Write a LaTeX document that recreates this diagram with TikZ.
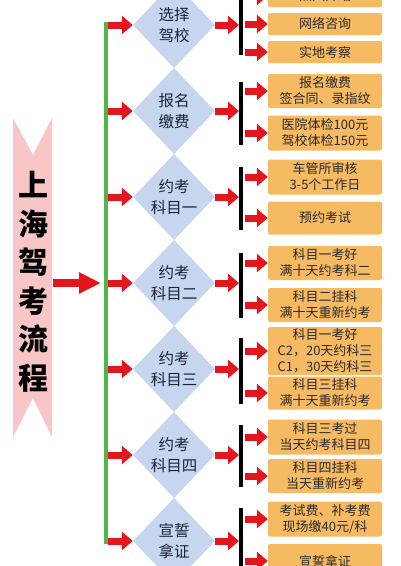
\documentclass[tikz,border=0pt]{standalone}
\usepackage{fontspec}
\setmainfont{Noto Sans CJK SC}
\usetikzlibrary{arrows.meta,shapes.geometric,positioning}
\definecolor{dmdblue}{HTML}{C6D6EF}
\definecolor{dmdtext}{HTML}{1B2238}
\definecolor{boxorange}{HTML}{F6BA63}
\definecolor{boxtext}{HTML}{2A2A2A}
\definecolor{arrred}{HTML}{E3161E}
\definecolor{ribpink}{HTML}{F8C6C7}
\definecolor{linegreen}{HTML}{4DB748}
\begin{document}
\begin{tikzpicture}[x=1pt,y=-1pt,
    dmd/.style={diamond,fill=dmdblue,minimum width=82pt,minimum height=86pt,inner sep=0pt,align=center,text=dmdtext,font=\fontsize{15.5}{21}\selectfont},
    ybox/.style={rectangle,rounded corners=2pt,fill=boxorange,minimum width=114pt,inner sep=0pt,align=center,text=boxtext,font=\fontsize{13}{16}\selectfont},
    arr/.style={draw=arrred,line width=7pt,-{Triangle[length=11pt,width=18pt]}},
    bigarr/.style={draw=arrred,line width=8pt,-{Triangle[length=22pt,width=20pt]}},
    barline/.style={line width=4pt}]
      \useasboundingbox (0,0) rectangle (400,566);
      \clip (0,0) rectangle (400,566);
      \fill[ribpink] (13,118) -- (33,155) -- (52,118) -- (52,437) -- (33,398) -- (13,437) -- cycle;
      \node[font=\fontsize{30}{38.5}\selectfont\bfseries,align=center,inner sep=0pt] (title) at (33,282) {上\\海\\驾\\考\\流\\程};
      \coordinate (ribR) at (53,283);
      \coordinate (gmid) at (101,283);
      \draw[bigarr] (ribR) -- (gmid);
      \coordinate (gtop) at (106,22);
      \coordinate (gbot) at (106,544);
      \draw[linegreen,line width=4pt] (gtop) -- (gbot);
      \foreach \i/\y/\t in {1/25/{选择\\驾校},2/111/{报名\\缴费},3/197/{约考\\科目一},4/283/{约考\\科目二},5/369/{约考\\科目三},6/455/{约考\\科目四},7/541/{宣誓\\拿证}} {
        \node[dmd] (d\i) at (174,\y) {\t};
        \coordinate (g\i) at (108,\y);
        \coordinate (k\i) at (239,\y);
        \draw[arr] (g\i) -- (d\i.west);
        \draw[arr] (d\i.east) -- (k\i);
      }
      \foreach \a/\b in {-2/55,82/145,167/230,253/318,338/404,425/487,508/570} \draw[barline] (241,\a) -- (241,\b);
      \foreach \n/\y/\h/\t in {b1a/-4/22/熟人介绍,b1b/24/22/网络咨询,b1c/52/22/实地考察,b2a/91/34/{报名缴费\\签合同、录指纹},b2b/133/35/{医院体检100元\\驾校体检150元},b3a/177/35/{车管所审核\\3-5个工作日},b3b/218/33/预约考试,b4a/263/34/{科目一考好\\满十天约考科二},b4b/305/34/{科目二挂科\\满十天重新约考},b5a/351/48/{科目一考好\\C2，20天约科三\\C1，30天约科三},b5b/393/33/{科目三挂科\\满十天重新约考},b6a/437/35/{科目三考过\\当天约考科目四},b6b/476/34/{科目四挂科\\当天重新约考},b7a/519/35/{考试费、补考费\\现场缴40元/科},b7b/561/34/宣誓拿证} {
        \node[ybox,minimum height=\h pt] (\n) at (325,\y) {\t};
        \coordinate (s\n) at (245,\y);
        \draw[arr] (s\n) -- (\n.west);
      }
    \end{tikzpicture}
\end{document}
